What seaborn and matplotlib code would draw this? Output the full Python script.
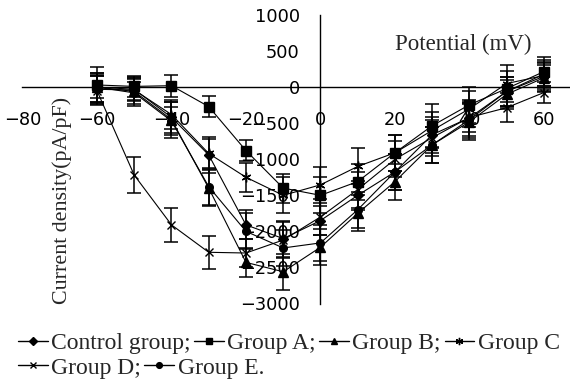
import numpy as np
import pandas as pd
import matplotlib
matplotlib.use("Agg")
import matplotlib.pyplot as plt
import seaborn as sns
from matplotlib.lines import Line2D

sns.set_style("white")

voltage = [-60, -50, -40, -30, -20, -10, 0, 10, 20, 30, 40, 50, 60]

control = [0, -30, -420, -940, -1910, -2100, -1850, -1500, -1175, -660, -425, -60, 150]
group_a = [30, 10, 20, -270, -880, -1400, -1500, -1310, -910, -535, -245, -20, 215]
group_b = [0, -60, -450, -1400, -2430, -2560, -2220, -1750, -1310, -800, -480, -100, 130]
group_c = [-30, -40, -380, -920, -1250, -1500, -1355, -1100, -910, -600, -300, 50, 160]
group_d = [-50, -1220, -1910, -2290, -2300, -2120, -1800, -1420, -1000, -700, -420, -285, -75]
group_e = [0, -80, -470, -1380, -2000, -2230, -2160, -1700, -1175, -800, -450, -60, 180]

err_control = [200, 150, 220, 250, 200, 250, 200, 200, 250, 250, 250, 200, 200]
err_a = [250, 150, 150, 150, 150, 200, 250, 250, 250, 300, 250, 250, 200]
err_b = [200, 200, 250, 250, 200, 250, 250, 250, 250, 250, 250, 200, 200]
err_c = [200, 150, 200, 200, 200, 250, 250, 250, 250, 250, 250, 250, 150]
err_d = [200, 250, 240, 230, 200, 250, 250, 250, 250, 250, 200, 200, 150]
err_e = [150, 150, 200, 250, 250, 250, 250, 250, 250, 250, 250, 200, 200]

labels = ["Control group;", "Group A;", "Group B;", "Group C", "Group D;", "Group E."]
series = [control, group_a, group_b, group_c, group_d, group_e]
errors = [err_control, err_a, err_b, err_c, err_d, err_e]
markers = ["D", "s", "^", (6, 2, 0), "x", "o"]
msizes = [5, 6.5, 6.5, 7, 6, 5.5]

x_ticks = [-80, -60, -40, -20, 0, 20, 40, 60]
y_ticks = [1000, 500, 0, -500, -1000, -1500, -2000, -2500, -3000]

fig = plt.figure(figsize=(5.70, 3.81), dpi=100)
ax = fig.add_axes([22.5 / 570, 1 - 303.5 / 381, 1 - 22.5 / 570, (303.5 - 15) / 381])

for lab, vals, errs, mk, ms in zip(labels, series, errors, markers, msizes):
    ax.errorbar(voltage, vals, yerr=errs, fmt="none", ecolor="black",
                elinewidth=1.1, capsize=5, capthick=1.1, zorder=2)
    sns.lineplot(x=voltage, y=vals, ax=ax, color="black", linewidth=0.8,
                 marker=mk, markersize=ms, markeredgecolor="black",
                 markerfacecolor="black", markeredgewidth=1.0, zorder=3,
                 legend=False)

ax.set_xlim(-80, 67)
ax.set_ylim(-3000, 1000)
ax.spines["left"].set_position(("data", 0))
ax.spines["bottom"].set_position(("data", 0))
ax.spines["right"].set_visible(False)
ax.spines["top"].set_visible(False)
for s in ("left", "bottom"):
    ax.spines[s].set_color("black")
    ax.spines[s].set_linewidth(1.0)
ax.set_xticks(x_ticks)
ax.set_yticks(y_ticks)
ax.set_xticklabels([f"\u2212{abs(v)}" if v < 0 else str(v) for v in x_ticks])
ax.set_yticklabels([f"\u2212{abs(v)}" if v < 0 else str(v) for v in y_ticks])
ax.tick_params(axis="x", direction="in", length=5, width=1, pad=17,
               labelsize=12.8, colors="black")
ax.tick_params(axis="y", direction="in", length=5, width=1, pad=15,
               labelsize=12.8, colors="black")
for t in ax.get_xticklabels() + ax.get_yticklabels():
    t.set_fontfamily("DejaVu Sans")
ax.set_xlabel("")
ax.set_ylabel("")
ax.patch.set_alpha(0)

serif = "Liberation Serif"
fig.text(463 / 570, 1 - 44 / 381, "Potential (mV)", family=serif, fontsize=16.5,
         ha="center", va="center")
fig.text(62 / 570, 1 - 200 / 381, "Current density(pA/pF)", family=serif,
         fontsize=15.8, rotation=90, ha="center", va="center")

handles = [Line2D([0], [0], color="black", linewidth=1.0, marker=mk, markersize=ms * 0.75,
                  markerfacecolor="black", markeredgecolor="black")
           for mk, ms in zip(markers, msizes)]
leg_kw = dict(loc="center left", frameon=False, prop={"family": serif, "size": 17},
              handlelength=1.25, handletextpad=0.15, columnspacing=0.15,
              borderpad=0, borderaxespad=0)
leg1 = fig.legend(handles[:4], labels[:4], bbox_to_anchor=(18 / 570, 1 - 343 / 381),
                  ncol=4, **leg_kw)
leg2 = fig.legend(handles[4:], labels[4:], bbox_to_anchor=(18 / 570, 1 - 368 / 381),
                  ncol=2, **leg_kw)

fig.savefig("out.png", dpi=100, facecolor="white")
